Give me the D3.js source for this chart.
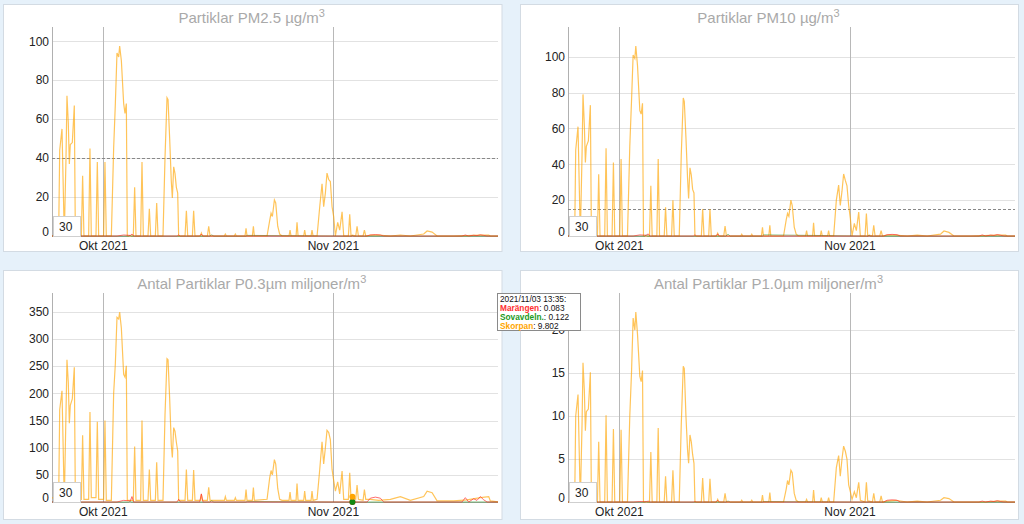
<!DOCTYPE html>
<html><head><meta charset="utf-8">
<script src="https://cdn.jsdelivr.net/npm/d3@7"></script>
<style>html,body{margin:0;padding:0;background:#e6f1fa;overflow:hidden}svg{display:block}</style>
</head><body><svg id="c" width="1024" height="524"></svg>
<script>
// ---- time axis: day offsets from 2021-10-01 00:00 ----
const dayOffsets = [
 -6.92,-6.02,-5.88,-5.57,-5.26,-5.03,-4.90,-4.72,-4.58,-4.45,-4.18,-3.91,
 -3.77,-2.96,-2.79,-2.61,-1.98,-1.80,-1.62,-0.99,-0.81,-0.63,0.04,0.22,
 0.40,1.08,1.39,1.62,1.84,2.07,2.20,2.43,2.74,2.92,3.10,3.23,
 4.04,4.22,4.40,5.03,5.21,5.39,6.02,6.20,6.38,7.01,7.19,7.37,
 8.04,8.31,8.58,8.72,8.94,9.16,9.30,9.48,9.66,9.84,10.02,10.15,
 11.01,11.19,11.37,12.00,12.17,12.35,13.07,13.21,13.34,14.02,14.20,14.38,
 16.31,16.44,16.58,17.65,17.79,17.92,19.09,19.23,19.36,20.08,20.22,20.35,
 22.06,22.42,22.60,22.78,23.05,23.23,23.50,23.76,24.08,25.02,25.16,25.29,
 25.97,26.10,26.24,27.00,27.13,27.27,27.99,28.12,28.26,28.80,29.16,29.47,
 29.69,29.92,30.14,30.37,30.59,30.82,31.04,31.27,31.58,31.85,32.17,32.39,
 33.02,33.20,33.38,33.57,34.01,34.19,34.37,35.00,35.18,35.36,35.98,37.11,
 38.68,40.03,41.37,43.17,43.63,44.30,44.97,47.21,49.01,50.80,51.93,52.15,53.28];

// ---- Skorpan (orange) ----
const skorpanPM25 = [
 0,0,44,55,0,40,72,58,37,47,48,67,
 0,0,31,0,0,45,0,0,38,0,0,38,
 0,0,45,68,94,92,97.6,90,68,63,68,0,
 0,25,0,0,38,0,0,14,0,0,17,0,
 0,40,71,70,50,28,19.5,35.5,32,25,22,0,
 0,13,0,0,13,0,0,1.5,0,0,5,0,
 0,1,0,0,1,0,0,4,0,0,5,0,
 0,8,11.7,10,18.5,17,5,1,0,0,3,0,
 0,7,0,0,3,0,0,3,0,0,15,26.8,
 15,22,32.3,29,28,15,10,0,7,3,12.4,0,
 0,11.2,0,0.4,0,5,0,0,3,0,0.5,0.5,
 0,0.5,0,1,2.6,2,0,0,0.2,0.5,0.5,0,0];
const skorpanPM10 = [
 0,0,48,61,0,45,79,62,41,50,53,73,
 0,0,34.5,0,0,49,0,0,41,0,0,43,
 0,0,50,75,101,99,106,95,70,68,74,0,
 0,28,0,0,43,0,0,16,0,0,20,0,
 0,45,77,75,55,32,21,38,34,26,24,0,
 0,15,0,0,15,0,0,1.5,0,0,5.6,0,
 0,1,0,0,1,0,0,4.8,0,0,6,0,
 0,9,12.6,11,20,17,5,1,0,0,3,0,
 0,7.4,0,0,3,0,0,3,0,0,20,28.4,
 17,25,34.6,31,28,17,10,0,7,3,13.4,0,
 0,12.5,0,0.5,0,6,0,0,3,0,0.5,0.5,
 0,0.5,0,1,2.8,2,0,0,0.2,0.5,0.5,0,0];
const skorpanP03 = [
 8,2,170,205,0,165,262,220,145,178,190,248,
 5,5,123,5,5,166,8,8,148,5,5,150,
 3,3,200,255,340,337,350,320,235,230,251,3,
 3,102,3,3,150,3,3,60,3,3,73,3,
 3,160,264,262,190,105,82,137,130,110,94,3,
 3,60,3,3,59,3,3,14,3,3,27,3,
 3,10,3,3,8,3,3,23,3,3,26.5,3,
 5,45,58,50,78,70,25,5,3,3,18.5,3,
 3,34,3,3,20,3,3,20,3,5,60,111,
 70,100,132,128,115,60,40,20,37,15,57,5,
 5,54,5,9.802,5,31,5,3,23,5,5,3,
 5,10,3,10,20,17,2,2,4,8,10,2,0];
const skorpanP10 = [
 0,0,10,12.5,0,9,16.2,13,8.3,10.5,10.8,15.1,
 0,0,7,0,0,10.1,0,0,8.5,0,0,8.4,
 0,0,10,15,21.4,20,22.1,19.5,14.6,14,15.3,0,
 0,5.8,0,0,8.6,0,0,3,0,0,3.7,0,
 0,9,15.8,15.5,10,6,4.5,7.8,7,5.5,4.5,0,
 0,2.8,0,0,2.7,0,0,0.3,0,0,1,0,
 0,0.2,0,0,0.2,0,0,0.8,0,0,1.1,0,
 0,1.5,2.5,2,3.7,3.4,1,0.2,0,0,0.3,0,
 0,1.4,0,0,0.5,0,0,0.5,0,0,4,5.4,
 3,5,6.5,5.9,5,2,1.2,0.3,1.2,0.5,2.3,0.2,
 0,2.3,0.1,0.1,0,1,0,0,0.7,0,0.1,0.2,
 0,0.1,0,0.2,0.5,0.4,0,0,0,0.1,0.1,0,0];

// ---- Marängen (red) ----
const marangenDays = [-6.92,1.84,2.74,3.64,3.86,4.09,9.93,10.15,10.38,12.98,13.21,13.43,33.57,
 35.53,35.98,36.66,37.33,37.78,48.33,48.78,49.23,49.90,50.35,50.80,51.26,51.71,53.28];
const marangenPM25 = [0,0,0.5,0.3,1,0,0,0.5,0,0,1,0,0,0,0.5,0.7,0.5,0,0,0.5,0,0.4,0.2,0.6,0.3,0,0];
const marangenPM10 = [0,0,0.6,0.4,1.2,0,0,0.6,0,0,1.2,0,0,0,0.7,0.9,0.7,0,0,0.6,0,0.5,0.3,0.8,0.4,0,0];
const marangenP03  = [0,0,3,2,10,0,0,5,0,0,15,0,0.083,0,7,9,7,0,0,8,0,6,3,10,4,0,0];
const marangenP10  = [0,0,0.05,0.03,0.1,0,0,0.05,0,0,0.2,0,0,0,0.2,0.25,0.2,0,0,0.1,0,0.1,0.05,0.15,0.05,0,0];

// ---- Sovavdeln. (green) ----
const sovDays = [-6.92,3.4,3.6,3.8,14.3,14.6,14.9,19.2,19.4,33.40,33.57,33.75,53.28];
const sovPM25 = [0,0,0.3,0,0,0.5,0,0,0.3,0,0.2,0,0];
const sovPM10 = [0,0,0.6,0,0,0.9,0,0,0.6,0,0.4,0,0];
const sovP03  = [0,0,1,0,0,2,0,0,1,0,0.122,0,0];
const sovP10  = [0,0,0.05,0,0,0.1,0,0,0.05,0,0.01,0,0];

const titles = ["Partiklar PM2.5 µg/m","Partiklar PM10 µg/m","Antal Partiklar P0.3µm miljoner/m","Antal Partiklar P1.0µm miljoner/m"];
const yTickValues = [[0,20,40,60,80,100],[0,20,40,60,80,100],[0,50,100,150,200,250,300,350],[0,5,10,15,20]];
const limitLines = [40,15,null,null];
const xTickDates = [new Date(2021,9,1), new Date(2021,10,1)];
const xTickLabels = ["Okt 2021","Nov 2021"];
const rollPeriod = "30";
const seriesNames = ["Marängen","Sovavdeln.","Skorpan"];
const tooltipTime = "2021/11/03 13:35:";
const tooltipValues = ["0.083","0.122","9.802"];
const tooltipDay = 33.57;

// ---- drawing ----
const base = new Date(2021,9,1);
const toDate = d => new Date(+base + d*864e5);
const xDomain = [new Date(2021,8,24,2,0), new Date(2021,10,23,4,20)];
const colors = {red:"#ff3030", green:"#138a13", orange:"#ffa500"};

const skorpan = [skorpanPM25, skorpanPM10, skorpanP03, skorpanP10];
const marangen = [marangenPM25, marangenPM10, marangenP03, marangenP10];
const sov = [sovPM25, sovPM10, sovP03, sovP10];

const layout = [
  {box:[3.5,4.5,502,251.5], plot:[52,27,498,236]},
  {box:[520.5,4.5,1018.5,251.5], plot:[568,27,1015,236]},
  {box:[3.5,270.5,502,519.5], plot:[52,293,498,502]},
  {box:[520.5,270.5,1018.5,519.5], plot:[568,293,1015,502]}
];
const FONT = "'Liberation Sans', Arial, Helvetica, sans-serif";
const svg = d3.select("#c");
svg.append("rect").attr("width",1024).attr("height",524).attr("fill","#e6f1fa");

const zip = (days, vals) => days.map((d,i)=>({t:toDate(d), v:vals[i]}));

layout.forEach((L,i)=>{
  const [bx0,by0,bx1,by1] = L.box, [pl,pt,pr,pb] = L.plot;
  const g = svg.append("g");
  g.append("rect").attr("x",bx0).attr("y",by0).attr("width",bx1-bx0).attr("height",by1-by0)
   .attr("fill","#fff").attr("stroke","#d3dbe3");
  const x = d3.scaleTime().domain(xDomain).range([pl,pr]);
  const ymax = d3.max(skorpan[i])*1.1;
  const y = d3.scaleLinear().domain([0,ymax]).range([pb,pt]);

  g.selectAll(".hg").data(yTickValues[i]).join("line")
    .attr("x1",pl).attr("x2",pr).attr("y1",d=>Math.round(y(d))+0.5).attr("y2",d=>Math.round(y(d))+0.5)
    .attr("stroke","#e2e2e2");
  g.selectAll(".vg").data(xTickDates).join("line")
    .attr("x1",d=>Math.round(x(d))+0.5).attr("x2",d=>Math.round(x(d))+0.5).attr("y1",pt).attr("y2",pb)
    .attr("stroke","#b8b8b8");
  g.append("line").attr("x1",pl+0.5).attr("x2",pl+0.5).attr("y1",pt).attr("y2",pb).attr("stroke","#b0b0b0");
  g.append("line").attr("x1",pl).attr("x2",pr).attr("y1",pb+0.5).attr("y2",pb+0.5).attr("stroke","#b0b0b0");

  if(limitLines[i]!=null){
    g.append("line").attr("x1",pl).attr("x2",pr)
     .attr("y1",Math.round(y(limitLines[i]))+0.5).attr("y2",Math.round(y(limitLines[i]))+0.5)
     .attr("stroke","#888").attr("stroke-dasharray","3,2");
  }

  g.selectAll(".yl").data(yTickValues[i]).join("text")
    .attr("x",pl-3).attr("y",d=>y(d)+(d===0?-4:0)).attr("dy","0.35em")
    .attr("text-anchor","end").attr("font-family",FONT).attr("font-size",12).attr("fill","#222")
    .text(d=>d);
  g.selectAll(".xl").data(xTickDates).join("text")
    .attr("x",d=>x(d)).attr("y",pb+14).attr("text-anchor","middle")
    .attr("font-family",FONT).attr("font-size",12).attr("fill","#222")
    .text((d,k)=>xTickLabels[k]);

  const clipId = "clip"+i;
  g.append("clipPath").attr("id",clipId).append("rect").attr("x",pl).attr("y",pt-2).attr("width",pr-pl).attr("height",pb-pt+3);
  const line = d3.line().x(d=>x(d.t)).y(d=>y(d.v));
  const sg = g.append("g").attr("clip-path",`url(#${clipId})`);
  sg.append("path").datum(zip(dayOffsets, skorpan[i])).attr("d",line)
    .attr("fill","none").attr("stroke",colors.orange).attr("stroke-opacity",0.65).attr("stroke-width",1.2);
  sg.append("path").datum(zip(sovDays, sov[i])).attr("d",line)
    .attr("fill","none").attr("stroke",colors.green).attr("stroke-opacity",0.55).attr("stroke-width",1);
  sg.append("path").datum(zip(marangenDays, marangen[i])).attr("d",line)
    .attr("fill","none").attr("stroke",colors.red).attr("stroke-opacity",0.7).attr("stroke-width",1);

  if(i===2){
    const t = toDate(tooltipDay);
    const pts = [[colors.red,+tooltipValues[0]],[colors.green,+tooltipValues[1]],[colors.orange,+tooltipValues[2]]];
    pts.forEach(p=>g.append("circle").attr("cx",x(t)).attr("cy",y(p[1])).attr("r",3).attr("fill",p[0]));
  }

  g.append("rect").attr("x",pl+1.5).attr("y",pb-19.5).attr("width",27).attr("height",20)
   .attr("fill","#fff").attr("stroke","#cfcfcf");
  g.append("text").attr("x",pl+7).attr("y",pb-5.5).attr("font-family",FONT).attr("font-size",12)
   .attr("fill","#222").text(rollPeriod);

  const tt = g.append("text").attr("x",(bx0+bx1)/2-1).attr("y",by0+18.5).attr("text-anchor","middle")
    .attr("font-family",FONT).attr("font-size",15).attr("fill","#a9a9a9");
  tt.append("tspan").text(titles[i]);
  tt.append("tspan").attr("dy",-6).attr("font-size",11).text("3");
});

const tg = svg.append("g");
tg.append("rect").attr("x",497.5).attr("y",293.5).attr("width",83).attr("height",37)
  .attr("fill","#fff").attr("stroke","#8a8a8a");
tg.append("text").attr("x",500).attr("y",302).attr("font-family",FONT).attr("font-size",8.3).attr("fill","#111").text(tooltipTime);
const tcols = [colors.red, "#1c9a1c", colors.orange];
seriesNames.forEach((n,k)=>{
  const t = tg.append("text").attr("x",500).attr("y",311+k*9).attr("font-family",FONT).attr("font-size",8.3);
  t.append("tspan").attr("fill",tcols[k]).attr("font-weight","bold").text(n);
  t.append("tspan").attr("fill","#111").text(": "+tooltipValues[k]);
});
</script></body></html>
